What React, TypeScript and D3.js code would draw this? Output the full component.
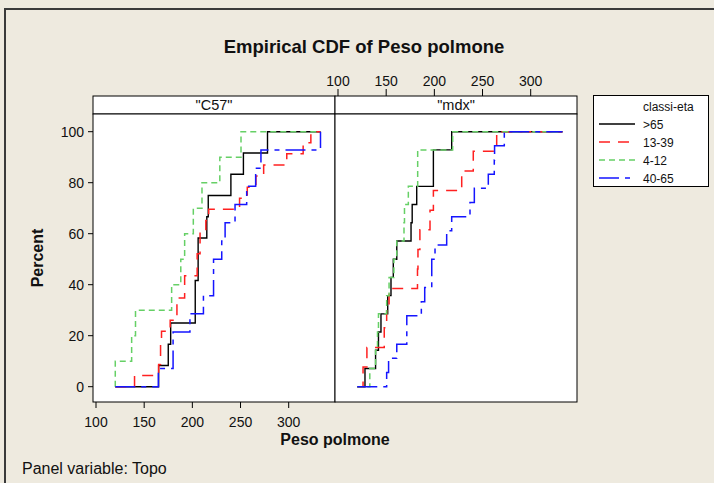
import React from 'react';
import * as d3 from 'd3';

const panelNames = ['"C57"', '"mdx"'];
const groupNames = ['>65', '13-39', '4-12', '40-65'];
const groupColors = ['#000000', '#FF2020', '#66D066', '#1515FF'];
const groupDash = ['none', '11,8', '6,4', '20,6,5,6'];

// C57 panel
const c57Gt65 = [165, 175, 177.5, 203, 203, 206, 206, 215, 216.5, 240, 253, 278];
const c57Age13 = [140, 165, 167, 167, 168, 177, 184, 184, 192, 192, 205, 205, 208, 208, 214, 217, 249, 257, 266, 274, 298, 315, 323];
const c57Age4 = [120, 137, 141, 178.5, 188, 192, 201, 210, 228.5, 250.5];
const c57Age40 = [164.7, 180, 180, 197.5, 211.5, 222, 222, 230.5, 234, 244.3, 256.4, 265.7, 271.2, 333];

// mdx panel
const mdxGt65 = [128, 139, 142, 144.6, 151.6, 155, 157.4, 161, 175.8, 177, 181.7, 199, 199, 218];
const mdxAge13 = [126, 130, 148, 150.5, 153, 182.5, 183, 185, 195.5, 199, 228.4, 240.4, 264.7];
const mdxAge4 = [133, 139, 141, 142, 150.5, 153, 158, 161, 168.5, 169, 173, 182.7, 182.7, 219];
const mdxAge40 = [150.5, 152.5, 161, 171.4, 171.4, 186.5, 190, 197.3, 197.3, 200.7, 212.8, 218, 237, 241.5, 256, 262.2, 262.5, 272.6];

const panelData = [
  [c57Gt65, c57Age13, c57Age4, c57Age40],
  [mdxGt65, mdxAge13, mdxAge4, mdxAge40],
];

const xTicks = [100, 150, 200, 250, 300];
const yTicks = [0, 20, 40, 60, 80, 100];

const FONT = '"Liberation Sans", Arial, sans-serif';

export default function App() {
  const W = 714;
  const H = 483;
  const panelLeft = [93, 335];
  const panelW = 242;
  const stripTop = 96;
  const plotTop = 114;
  const plotBottom = 402;

  const x = d3.scaleLinear().domain([100, 300]).range([3, 195.7]);
  const y = d3.scaleLinear().domain([0, 100]).range([386.7, 131.7]);

  const all = panelData.flat(2);
  const gmin = d3.min(all) as number;
  const gmax = d3.max(all) as number;

  const ecdf = (vals: number[]) => {
    const s = vals.slice().sort(d3.ascending);
    const n = s.length;
    const pts: [number, number][] = [[gmin, 0]];
    s.forEach((v, i) => pts.push([v, ((i + 1) / n) * 100]));
    pts.push([gmax, 100]);
    return pts;
  };

  const line = d3
    .line<[number, number]>()
    .x((d) => x(d[0]))
    .y((d) => y(d[1]))
    .curve(d3.curveStepAfter);

  return (
    <svg
      width={W}
      height={H}
      style={{ position: 'absolute', left: 0, top: 0, fontFamily: FONT }}
    >
      <rect x={0} y={0} width={W} height={H} fill="#EEEADF" />
      <line x1={4} y1={9} x2={W} y2={9} stroke="#3a3a3a" strokeWidth={2} />
      <line x1={5} y1={9} x2={5} y2={H} stroke="#3a3a3a" strokeWidth={2} />

      <text x={364} y={53} textAnchor="middle" fontSize={18.5} fontWeight="bold" fill="#111">
        Empirical CDF of Peso polmone
      </text>

      {panelNames.map((name, pi) => {
        const left = panelLeft[pi];
        return (
          <g key={name} transform={`translate(${left},0)`}>
            <rect x={0} y={stripTop} width={panelW} height={plotTop - stripTop} fill="#fff" stroke="#000" strokeWidth={1} />
            <text x={panelW / 2} y={110} textAnchor="middle" fontSize={14.5} fill="#111">
              {name}
            </text>
            <rect x={0} y={plotTop} width={panelW} height={plotBottom - plotTop} fill="#fff" stroke="#000" strokeWidth={1} />
            {panelData[pi].map((vals, gi) => (
              <path
                key={gi}
                d={line(ecdf(vals)) || ''}
                fill="none"
                stroke={groupColors[gi]}
                strokeWidth={gi === 0 ? 1.4 : 1.5}
                strokeDasharray={groupDash[gi]}
              />
            ))}
            {pi === 0 &&
              xTicks.map((t) => (
                <g key={t}>
                  <line x1={x(t)} x2={x(t)} y1={plotBottom} y2={plotBottom + 6} stroke="#000" />
                  <text x={x(t)} y={427} textAnchor="middle" fontSize={14} fill="#111">
                    {t}
                  </text>
                </g>
              ))}
            {pi === 1 &&
              xTicks.map((t) => (
                <g key={t}>
                  <line x1={x(t)} x2={x(t)} y1={stripTop - 7} y2={stripTop} stroke="#000" />
                  <text x={x(t)} y={86} textAnchor="middle" fontSize={14} fill="#111">
                    {t}
                  </text>
                </g>
              ))}
          </g>
        );
      })}

      {yTicks.map((t) => (
        <g key={t}>
          <line x1={88} x2={93} y1={y(t)} y2={y(t)} stroke="#000" />
          <text x={84} y={y(t)} dy="0.35em" textAnchor="end" fontSize={14} fill="#111">
            {t}
          </text>
        </g>
      ))}

      <text x={335} y={445} textAnchor="middle" fontSize={16} fontWeight="bold" fill="#111">
        Peso polmone
      </text>
      <text
        transform={`translate(43,258) rotate(-90)`}
        textAnchor="middle"
        fontSize={16}
        fontWeight="bold"
        fill="#111"
      >
        Percent
      </text>

      <text x={22} y={474} fontSize={16} fill="#111">
        Panel variable: Topo
      </text>

      <g>
        <rect x={593.5} y={95.5} width={115} height={91} fill="#fff" stroke="#000" strokeWidth={1} />
        <text x={643} y={111} fontSize={12} fill="#111">
          classi-eta
        </text>
        {groupNames.map((g, gi) => {
          const cy = 124 + gi * 18;
          return (
            <g key={g}>
              <line
                x1={599}
                x2={635}
                y1={cy}
                y2={cy}
                stroke={groupColors[gi]}
                strokeWidth={1.5}
                strokeDasharray={groupDash[gi]}
              />
              <text x={643} y={cy + 4.5} fontSize={12} fill="#111">
                {g}
              </text>
            </g>
          );
        })}
      </g>
    </svg>
  );
}
